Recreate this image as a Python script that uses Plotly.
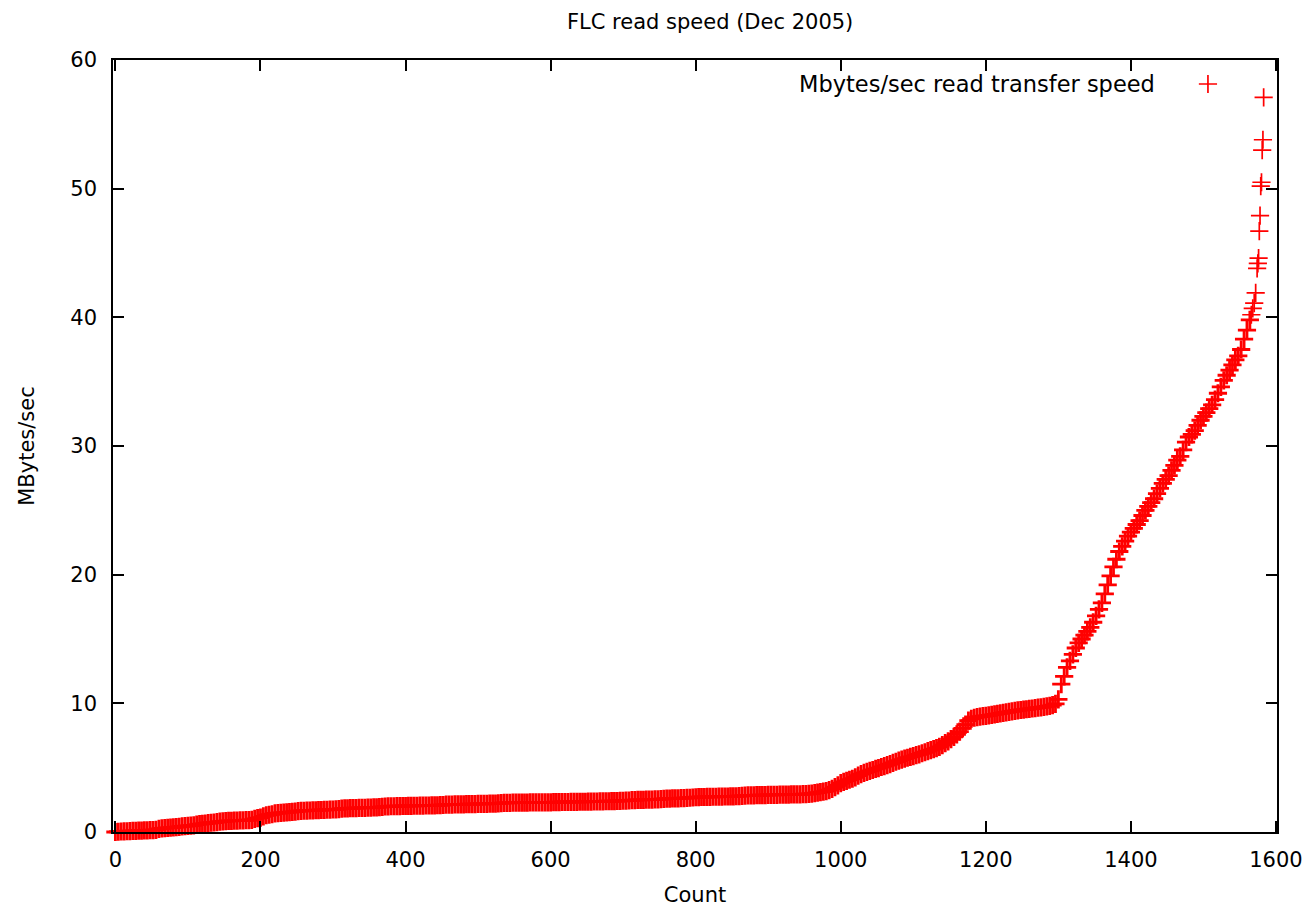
import plotly.graph_objects as go

# ---- data (sorted read-transfer speeds) ----
# main body: one reading every 4 transfers, starting at count 0
sample_step = 4
speed_main = [
    # 0 - 96
    0.00, 0.02, 0.04, 0.05, 0.06, 0.07, 0.08, 0.09, 0.10, 0.11, 0.12, 0.13, 0.14,
    0.15, 0.17, 0.25, 0.28, 0.30, 0.32, 0.34, 0.36, 0.38, 0.40, 0.44, 0.46,
    # 100 - 196
    0.48, 0.50, 0.52, 0.58, 0.61, 0.63, 0.66, 0.70, 0.72, 0.74, 0.76, 0.80, 0.82,
    0.84, 0.86, 0.87, 0.88, 0.89, 0.90, 0.91, 0.92, 0.93, 0.95, 1.02, 1.08,
    # 200 - 296
    1.12, 1.22, 1.30, 1.34, 1.38, 1.44, 1.47, 1.49, 1.51, 1.53, 1.54, 1.56, 1.58,
    1.62, 1.64, 1.65, 1.66, 1.67, 1.68, 1.69, 1.70, 1.71, 1.72, 1.73, 1.74,
    # 300 - 396
    1.75, 1.76, 1.78, 1.82, 1.83, 1.84, 1.85, 1.85, 1.86, 1.87, 1.87, 1.88, 1.89,
    1.90, 1.91, 1.92, 1.94, 1.96, 1.98, 1.99, 2.00, 2.00, 2.01, 2.01, 2.02,
    # 400 - 496
    2.02, 2.03, 2.03, 2.04, 2.04, 2.05, 2.05, 2.06, 2.06, 2.07, 2.07, 2.08, 2.09,
    2.10, 2.12, 2.13, 2.13, 2.14, 2.14, 2.15, 2.15, 2.16, 2.16, 2.17, 2.17,
    # 500 - 596
    2.18, 2.18, 2.19, 2.19, 2.20, 2.20, 2.21, 2.22, 2.24, 2.26, 2.27, 2.27, 2.28,
    2.28, 2.28, 2.29, 2.29, 2.29, 2.30, 2.30, 2.30, 2.30, 2.31, 2.31, 2.31,
    # 600 - 696
    2.31, 2.32, 2.32, 2.32, 2.33, 2.33, 2.33, 2.34, 2.34, 2.34, 2.35, 2.35, 2.35,
    2.36, 2.36, 2.37, 2.37, 2.38, 2.38, 2.39, 2.39, 2.40, 2.40, 2.41, 2.42,
    # 700 - 796
    2.43, 2.44, 2.45, 2.47, 2.48, 2.49, 2.50, 2.50, 2.51, 2.52, 2.52, 2.53, 2.54,
    2.55, 2.57, 2.59, 2.60, 2.61, 2.62, 2.62, 2.63, 2.64, 2.65, 2.66, 2.68,
    # 800 - 896
    2.70, 2.71, 2.72, 2.72, 2.73, 2.73, 2.74, 2.74, 2.75, 2.75, 2.76, 2.76, 2.77,
    2.77, 2.78, 2.79, 2.80, 2.82, 2.84, 2.85, 2.85, 2.86, 2.86, 2.87, 2.87,
    # 900 - 996
    2.88, 2.88, 2.89, 2.89, 2.90, 2.90, 2.91, 2.91, 2.92, 2.92, 2.93, 2.93, 2.94,
    2.95, 2.96, 2.98, 3.02, 3.06, 3.10, 3.14, 3.18, 3.25, 3.35, 3.48, 3.62,
    # 1000 - 1096
    3.80, 3.90, 3.98, 4.06, 4.14, 4.25, 4.38, 4.50, 4.60, 4.68, 4.75, 4.82, 4.90,
    4.97, 5.05, 5.12, 5.20, 5.28, 5.37, 5.46, 5.55, 5.62, 5.70, 5.77, 5.84,
    # 1100 - 1196
    5.90, 5.97, 6.04, 6.12, 6.20, 6.28, 6.36, 6.44, 6.52, 6.62, 6.75, 6.90, 7.05,
    7.22, 7.40, 7.58, 7.80, 8.05, 8.35, 8.65, 8.80, 8.88, 8.93, 8.97, 9.00,
    # 1200 - 1296
    9.03, 9.06, 9.10, 9.14, 9.18, 9.22, 9.26, 9.30, 9.34, 9.38, 9.42, 9.45, 9.48,
    9.51, 9.54, 9.57, 9.60, 9.63, 9.66, 9.69, 9.72, 9.76, 9.80, 9.86, 9.96,
    # 1300 - 1396
    10.3, 11.5, 12.1, 12.8, 13.3, 13.8, 14.3, 14.7, 15.0, 15.3, 15.6, 15.9, 16.3,
    16.8, 17.3, 17.8, 18.5, 19.2, 19.9, 20.6, 21.2, 21.8, 22.2, 22.6, 23.0,
    # 1400 - 1496
    23.3, 23.6, 23.9, 24.2, 24.6, 25.0, 25.3, 25.6, 25.9, 26.3, 26.7, 27.1, 27.4,
    27.7, 28.1, 28.5, 28.9, 29.2, 29.7, 30.3, 30.7, 30.9, 31.2, 31.6, 32.0,
    # 1500 - 1564
    32.3, 32.6, 32.9, 33.2, 33.6, 34.1, 34.6, 35.1, 35.5, 35.9, 36.3, 36.7, 37.0,
    37.5, 38.3, 39.0, 39.8,
]
count_main = [i * sample_step for i in range(len(speed_main))]

# fastest transfers, read individually
count_tail = [1566, 1568, 1570, 1572, 1574, 1575, 1576, 1577, 1578, 1579, 1580, 1581, 1582, 1583]
speed_tail = [40.2, 40.7, 41.1, 41.9, 43.8, 44.2, 44.6, 46.7, 47.9, 50.2, 50.5, 53.0, 53.8, 57.1]

x_ticks = [0, 200, 400, 600, 800, 1000, 1200, 1400, 1600]
y_ticks = [0, 10, 20, 30, 40, 50, 60]

title_text = "FLC read speed (Dec 2005)"
x_title = "Count"
y_title = "MBytes/sec"
series_name = "Mbytes/sec read transfer speed"

FONT = "DejaVu Sans"
RED = "#ff0000"

fig = go.Figure()
# dense body of the sorted series
fig.add_trace(go.Scatter(
    x=count_main, y=speed_main, mode="markers", name=" ", legendgroup="s",
    marker=dict(symbol="cross-thin", size=13, color=RED,
                line=dict(color=RED, width=2.8)),
    cliponaxis=False, showlegend=False,
))
# sparse fastest transfers (same series)
fig.add_trace(go.Scatter(
    x=count_tail, y=speed_tail, mode="markers", name=" ", legendgroup="s",
    marker=dict(symbol="cross-thin", size=13, color=RED,
                line=dict(color=RED, width=1.7)),
    cliponaxis=False, showlegend=True,
))

axis_common = dict(
    showline=True, linecolor="black", linewidth=1.5, mirror="allticks",
    ticks="inside", ticklen=11, tickwidth=1.5, tickcolor="black",
    showgrid=False, zeroline=False,
    tickfont=dict(family=FONT, size=21, color="black"),
)

fig.update_xaxes(range=[-3.3, 1601.4], tickvals=x_ticks, ticklabelstandoff=8,
                 title=dict(text=x_title, font=dict(family=FONT, size=21, color="black"), standoff=16),
                 **axis_common)
fig.update_yaxes(range=[0, 60], tickvals=y_ticks, ticklabelstandoff=10,
                 title=dict(text=y_title, font=dict(family=FONT, size=21, color="black"), standoff=30),
                 **axis_common)

fig.update_layout(
    width=1312, height=909,
    margin=dict(l=113, r=35, t=60, b=77, autoexpand=False),
    paper_bgcolor="white", plot_bgcolor="white",
    font=dict(family=FONT, size=21, color="black"),
    title=dict(text=title_text, x=0.513, xref="paper", xanchor="center",
               y=1 - 22 / 909, yref="container", yanchor="middle",
               font=dict(family=FONT, size=21, color="black")),
    showlegend=True,
    legend=dict(x=0.9235, xanchor="left", y=0.995, yanchor="top",
                bgcolor="rgba(0,0,0,0)", borderwidth=0,
                font=dict(family=FONT, size=21)),
    annotations=[dict(text=series_name, xref="paper", yref="paper",
                      x=(1157 - 113) / 1164, xanchor="right",
                      y=(832 - 84) / 772, yanchor="middle", showarrow=False,
                      font=dict(family=FONT, size=22.5, color="black"))],
)

fig.write_html("out.html", config={"displayModeBar": False},
               post_script="document.body.style.margin='0';")
